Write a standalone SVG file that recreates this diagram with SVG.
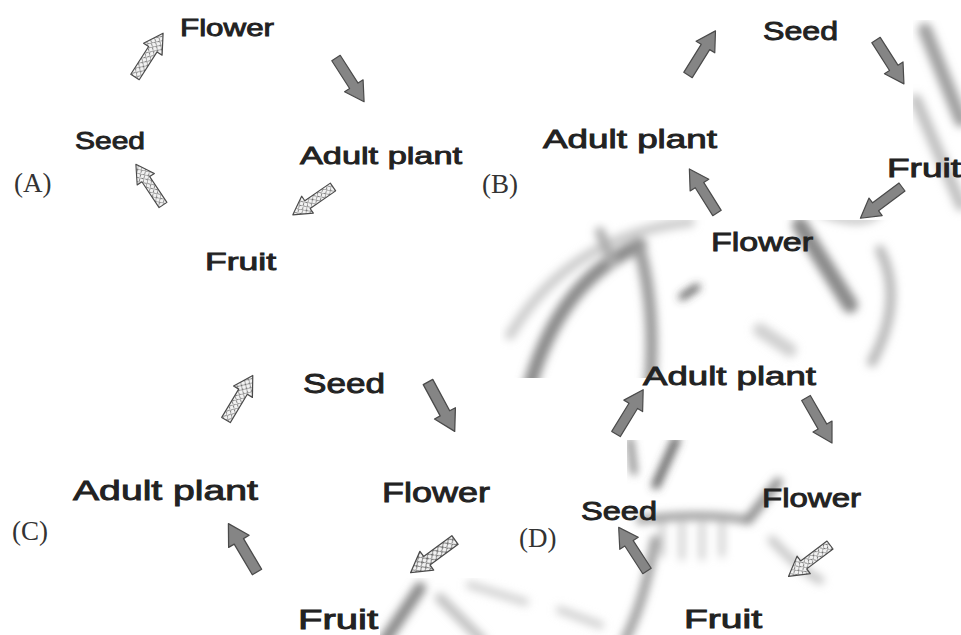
<svg xmlns="http://www.w3.org/2000/svg" width="961" height="635" viewBox="0 0 961 635">
<style>
.lbl{font-family:"Comic Sans MS","Liberation Sans","Noto Sans",sans-serif;fill:#222;stroke:#222;stroke-width:0.9;}
.opt{font-family:"Liberation Serif","DejaVu Serif",serif;fill:#333;font-size:27px;}
.solid{fill:#858585;stroke:#4a4a4a;stroke-width:1.2;stroke-linejoin:round;}
.hatch{fill:url(#speck);stroke:#4a4a4a;stroke-width:1.2;stroke-linejoin:round;}
.bg path{fill:none;stroke-linecap:round;}
</style>
<defs>
<pattern id="speck" width="6" height="6" patternUnits="userSpaceOnUse">
<rect width="6" height="6" fill="#f2f2f2"/>
<path d="M0,0 L3,3 M3,0 L0,3 M3,3 L6,6 M6,3 L3,6" stroke="#666" stroke-width="0.9"/>
</pattern>
<path id="arr" d="M0,-5 L33,-5 L33,-11 L52,0 L33,11 L33,5 L0,5 Z"/>
<filter id="blur" filterUnits="userSpaceOnUse" x="0" y="0" width="961" height="635"><feGaussianBlur stdDeviation="4.5"/></filter>
<clipPath id="bgclip">
<path d="M913,20 H961 V378 H500 V220 H913 Z M627,440 H961 V635 H380 V578 H627 Z"/>
</clipPath>
</defs>
<rect width="961" height="635" fill="#ffffff"/>
<g clip-path="url(#bgclip)">
<g class="bg" filter="url(#blur)">
<path d="M530,385 Q560,280 640,245" stroke="#8a8a8a" stroke-width="14"/>
<path d="M510,335 Q570,235 690,222" stroke="#cccccc" stroke-width="10"/>
<path d="M640,250 Q656,310 650,385" stroke="#9a9a9a" stroke-width="12"/>
<path d="M600,232 L612,262" stroke="#aaaaaa" stroke-width="10"/>
<path d="M682,297 L697,287" stroke="#444" stroke-width="6"/>
<path d="M800,225 L850,305" stroke="#8a8a8a" stroke-width="16"/>
<path d="M880,250 Q905,300 872,362" stroke="#b8b8b8" stroke-width="10"/>
<path d="M820,212 Q870,232 884,205" stroke="#c4c4c4" stroke-width="8"/>
<path d="M760,330 L790,350" stroke="#d0d0d0" stroke-width="14"/>
<path d="M925,30 L961,120" stroke="#a0a0a0" stroke-width="14"/>
<path d="M916,100 L961,205" stroke="#c0c0c0" stroke-width="12"/>
<path d="M630,440 L634,472" stroke="#777" stroke-width="6"/>
<path d="M676,440 L656,485" stroke="#555" stroke-width="8"/>
<path d="M640,520 Q700,512 748,520" stroke="#999" stroke-width="8"/>
<path d="M662,524 L662,555 M682,524 L682,558 M702,524 L702,558 M722,524 L722,555" stroke="#c4c4c4" stroke-width="5"/>
<path d="M748,520 L778,482" stroke="#888" stroke-width="9"/>
<path d="M772,540 Q800,570 820,580" stroke="#c8c8c8" stroke-width="9"/>
<path d="M655,540 Q645,600 625,640" stroke="#9a9a9a" stroke-width="9"/>
<path d="M385,640 L420,588" stroke="#888" stroke-width="12"/>
<path d="M440,598 L482,640" stroke="#c0c0c0" stroke-width="10"/>
<path d="M470,585 L525,602" stroke="#d0d0d0" stroke-width="8"/>
<path d="M560,610 L600,625" stroke="#d0d0d0" stroke-width="8"/>
</g>
</g>

<g id="label-A"><text class="opt" x="14" y="192">(A)</text></g>
<g id="A-flower"><text class="lbl" x="180" y="36" font-size="24" textLength="94" lengthAdjust="spacingAndGlyphs">Flower</text></g>
<g id="A-seed"><text class="lbl" x="75" y="149" font-size="24" textLength="70" lengthAdjust="spacingAndGlyphs">Seed</text></g>
<g id="A-adult"><text class="lbl" x="300" y="164" font-size="24" textLength="162" lengthAdjust="spacingAndGlyphs">Adult plant</text></g>
<g id="A-fruit"><text class="lbl" x="205" y="270" font-size="24" textLength="71" lengthAdjust="spacingAndGlyphs">Fruit</text></g>

<g id="label-B"><text class="opt" x="482" y="193">(B)</text></g>
<g id="B-seed"><text class="lbl" x="763" y="40" font-size="26" textLength="75" lengthAdjust="spacingAndGlyphs">Seed</text></g>
<g id="B-adult"><text class="lbl" x="543" y="148" font-size="26" textLength="174" lengthAdjust="spacingAndGlyphs">Adult plant</text></g>
<g id="B-fruit"><text class="lbl" x="887" y="177" font-size="26" textLength="74" lengthAdjust="spacingAndGlyphs">Fruit</text></g>
<g id="B-flower"><text class="lbl" x="711" y="251" font-size="26" textLength="102" lengthAdjust="spacingAndGlyphs">Flower</text></g>

<g id="label-C"><text class="opt" x="12" y="540">(C)</text></g>
<g id="C-seed"><text class="lbl" x="303" y="393" font-size="28" textLength="82" lengthAdjust="spacingAndGlyphs">Seed</text></g>
<g id="C-adult"><text class="lbl" x="73" y="500" font-size="28" textLength="185" lengthAdjust="spacingAndGlyphs">Adult plant</text></g>
<g id="C-flower"><text class="lbl" x="382" y="502" font-size="28" textLength="108" lengthAdjust="spacingAndGlyphs">Flower</text></g>
<g id="C-fruit"><text class="lbl" x="298" y="629" font-size="27" textLength="80" lengthAdjust="spacingAndGlyphs">Fruit</text></g>

<g id="label-D"><text class="opt" x="519" y="547">(D)</text></g>
<g id="D-adult"><text class="lbl" x="643" y="385" font-size="26" textLength="173" lengthAdjust="spacingAndGlyphs">Adult plant</text></g>
<g id="D-seed"><text class="lbl" x="581" y="520" font-size="26" textLength="76" lengthAdjust="spacingAndGlyphs">Seed</text></g>
<g id="D-flower"><text class="lbl" x="762" y="507" font-size="26" textLength="99" lengthAdjust="spacingAndGlyphs">Flower</text></g>
<g id="D-fruit"><text class="lbl" x="684" y="628" font-size="26" textLength="78" lengthAdjust="spacingAndGlyphs">Fruit</text></g>

<g id="connectors">
<use href="#arr" class="hatch" transform="translate(135,77) rotate(-57.3)"/>
<use href="#arr" class="solid" transform="translate(336,58) rotate(57.3)"/>
<use href="#arr" class="hatch" transform="translate(333,187) rotate(145.3) scale(0.94)"/>
<use href="#arr" class="hatch" transform="translate(163,205) rotate(-123.7) scale(0.94)"/>

<use href="#arr" class="solid" transform="translate(688,75) rotate(-58.1)"/>
<use href="#arr" class="solid" transform="translate(876,40) rotate(57.5)"/>
<use href="#arr" class="solid" transform="translate(902,187) rotate(143.1)"/>
<use href="#arr" class="solid" transform="translate(717,213) rotate(-122.1)"/>

<use href="#arr" class="hatch" transform="translate(226,420) rotate(-59)"/>
<use href="#arr" class="solid" transform="translate(428,382) rotate(61.6) scale(1.08)"/>
<use href="#arr" class="hatch" transform="translate(455,540) rotate(143.7) scale(1.06)"/>
<use href="#arr" class="solid" transform="translate(257,572) rotate(-120.6) scale(1.08)"/>

<use href="#arr" class="solid" transform="translate(616,434) rotate(-58.5)"/>
<use href="#arr" class="solid" transform="translate(806,398) rotate(60)"/>
<use href="#arr" class="hatch" transform="translate(830,545) rotate(142.9)"/>
<use href="#arr" class="solid" transform="translate(647,571) rotate(-123)"/>
</g>
</svg>
